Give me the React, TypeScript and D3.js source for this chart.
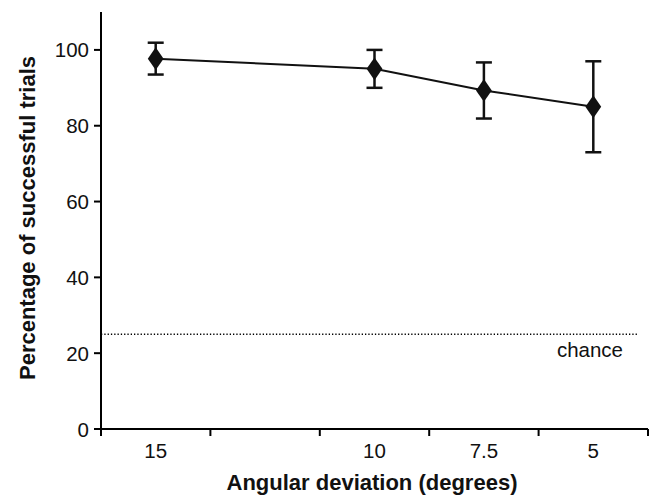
import { useEffect, useRef } from "react";
import * as d3 from "d3";

// x categories (one unlabeled slot between 15 and 10)
const categories = ["15", "", "10", "7.5", "5"];
const pointCats = ["15", "10", "7.5", "5"];
const means = [97.7, 95, 89.3, 85];
const errors = [4.2, 5, 7.4, 12];
const yTicks = [0, 20, 40, 60, 80, 100];
const chance = 25;

export default function App() {
  const svgRef = useRef<SVGSVGElement>(null);

  useEffect(() => {
    const el = svgRef.current;
    if (!el) return;
    const svg = d3.select(el);
    svg.selectAll("*").remove();

    const W = 656;
    const H = 496;
    const x0 = 101;
    const x1 = 648;
    const yBottom = 429;
    const yTop = 12;
    const font = "Liberation Sans, Arial, sans-serif";
    const fs = "20.5px";

    const xs = d3.scaleBand<string>().domain(categories).range([x0, x1]).padding(0);
    const ys = d3.scaleLinear().domain([0, 110]).range([yBottom, yTop]);

    svg.attr("viewBox", `0 0 ${W} ${H}`);

    // chance line
    svg
      .append("line")
      .attr("x1", x0)
      .attr("x2", 638)
      .attr("y1", ys(chance))
      .attr("y2", ys(chance))
      .attr("stroke", "#000")
      .attr("stroke-width", 1.3)
      .attr("stroke-dasharray", "1.3 2");
    svg
      .append("text")
      .attr("x", 623)
      .attr("y", 357)
      .attr("text-anchor", "end")
      .style("font-family", font)
      .style("font-size", fs)
      .attr("fill", "#111")
      .text("chance");

    // y axis
    svg
      .append("line")
      .attr("x1", x0)
      .attr("x2", x0)
      .attr("y1", yTop)
      .attr("y2", yBottom + 1)
      .attr("stroke", "#000")
      .attr("stroke-width", 2);
    yTicks.forEach((t) => {
      svg
        .append("line")
        .attr("x1", x0 - 7)
        .attr("x2", x0)
        .attr("y1", ys(t))
        .attr("y2", ys(t))
        .attr("stroke", "#000")
        .attr("stroke-width", 2);
      svg
        .append("text")
        .attr("x", x0 - 12)
        .attr("y", ys(t) + 7.5)
        .attr("text-anchor", "end")
        .style("font-family", font)
        .style("font-size", fs)
        .attr("fill", "#111")
        .text(t);
    });

    // x axis
    svg
      .append("line")
      .attr("x1", x0 - 1)
      .attr("x2", x1)
      .attr("y1", yBottom)
      .attr("y2", yBottom)
      .attr("stroke", "#000")
      .attr("stroke-width", 2);
    const edges = categories.map((c) => xs(c)!).concat([x1]);
    edges.forEach((e) => {
      svg
        .append("line")
        .attr("x1", e)
        .attr("x2", e)
        .attr("y1", yBottom)
        .attr("y2", yBottom + 7)
        .attr("stroke", "#000")
        .attr("stroke-width", 2);
    });
    categories.forEach((c) => {
      svg
        .append("text")
        .attr("x", xs(c)! + xs.bandwidth() / 2)
        .attr("y", 458)
        .attr("text-anchor", "middle")
        .style("font-family", font)
        .style("font-size", fs)
        .attr("fill", "#111")
        .text(c);
    });

    // axis titles
    svg
      .append("text")
      .attr("x", 372)
      .attr("y", 490)
      .attr("text-anchor", "middle")
      .style("font-family", font)
      .style("font-size", "22px")
      .style("font-weight", "bold")
      .attr("fill", "#111")
      .text("Angular deviation (degrees)");
    svg
      .append("text")
      .attr("transform", "rotate(-90)")
      .attr("x", -218)
      .attr("y", 35)
      .attr("text-anchor", "middle")
      .style("font-family", font)
      .style("font-size", "22px")
      .style("font-weight", "bold")
      .attr("fill", "#111")
      .text("Percentage of successful trials");

    const pts = pointCats.map((c, i) => ({
      x: xs(c)! + xs.bandwidth() / 2,
      m: means[i],
      e: errors[i],
    }));

    // error bars
    pts.forEach((p) => {
      const g = svg.append("g").attr("stroke", "#111").attr("stroke-width", 2.5);
      g.append("line")
        .attr("x1", p.x)
        .attr("x2", p.x)
        .attr("y1", ys(p.m + p.e))
        .attr("y2", ys(p.m - p.e));
      [p.m + p.e, p.m - p.e].forEach((v) => {
        g.append("line")
          .attr("x1", p.x - 8)
          .attr("x2", p.x + 8)
          .attr("y1", ys(v))
          .attr("y2", ys(v));
      });
    });

    // line
    const line = d3
      .line<{ x: number; m: number }>()
      .x((d) => d.x)
      .y((d) => ys(d.m));
    svg
      .append("path")
      .datum(pts)
      .attr("fill", "none")
      .attr("stroke", "#111")
      .attr("stroke-width", 2)
      .attr("d", line);

    // diamonds
    const diamond = d3.symbol().type(d3.symbolDiamond).size(150);
    svg
      .selectAll(".pt")
      .data(pts)
      .enter()
      .append("path")
      .attr("d", diamond)
      .attr("transform", (d) => `translate(${d.x},${ys(d.m)}) scale(1.2,1)`)
      .attr("fill", "#111");
  }, []);

  return (
    <svg
      ref={svgRef}
      width={656}
      height={496}
      style={{ position: "absolute", left: 0, top: 0, background: "#fff" }}
    />
  );
}
